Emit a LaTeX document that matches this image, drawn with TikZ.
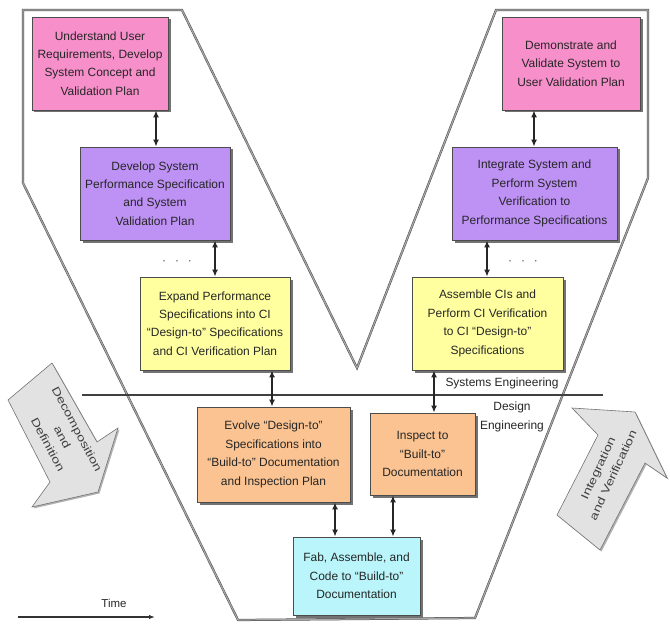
\documentclass[tikz,border=0pt]{standalone}
\usepackage{fontspec}
\setmainfont{Liberation Sans}
\usetikzlibrary{arrows.meta,shadows,calc}
\definecolor{pinkbox}{HTML}{F78FCB}
\definecolor{purplebox}{HTML}{BE91F5}
\definecolor{yellowbox}{HTML}{FFFFA0}
\definecolor{orangebox}{HTML}{FAC391}
\definecolor{cyanbox}{HTML}{B9F5FA}
\definecolor{bigarrow}{HTML}{E2E2E2}
\begin{document}
\begin{tikzpicture}[x=1bp,y=-1bp,
  box/.style={draw=black!70, line width=0.8bp, align=center,
    font=\fontsize{12}{18.5}\selectfont, text=black!85, inner sep=0pt,
    general shadow={fill=black!55, shadow xshift=2.5bp, shadow yshift=-2.5bp}},
  conn/.style={{Latex[length=7bp,width=6bp]}-{Latex[length=7bp,width=6bp]},
    line width=1.4bp, black!85},
  vline/.style={draw=black!70, line width=0.5bp, double=black!35, double distance=1.2bp, line join=miter},
  fatarrow/.style={fill=bigarrow, draw=black!55, line width=0.6bp,
    general shadow={fill=black!30, shadow xshift=1.5bp, shadow yshift=-1.5bp}},
  lbl/.style={font=\fontsize{12}{19}\selectfont, text=black!85, align=center},
  arrlbl/.style={font=\fontsize{11}{16.5}\selectfont, text=black!75}
]
\useasboundingbox (0,0) rectangle (670,634);
\fill[white] (0,0) rectangle (670,634);

% V outline
\draw[vline] (23,10) -- (182,10) -- (357,368) -- (496,10) -- (648,10) -- (648,178)
  -- (475,618) -- (238,620) -- (23,183) -- cycle;

% separator line
\coordinate (hl) at (82,395);
\coordinate (hr) at (603,395);
\draw[line width=2bp, black!75] (hl) -- (hr);

% big arrows
\draw[fatarrow] (8,400) -- (52,363) -- (97,442) -- (118,428) -- (98,492) -- (32,507) -- (50,482) -- cycle;
\draw[fatarrow] (557,515) -- (598,435) -- (572,408) -- (635,412) -- (667,478) -- (645,463) -- (600,550) -- cycle;
\node[arrlbl, rotate=-62] (dd) at (62,437)
  {\scalebox{1.3}[1]{\begin{tabular}{@{}c@{}}Decomposition\\and\\Definition\end{tabular}}};
\node[arrlbl, rotate=65] (iv) at (606,472)
  {\scalebox{1.3}[1]{\begin{tabular}{@{}c@{}}Integration\\and Verification\end{tabular}}};

% boxes
\node[box, fill=pinkbox, minimum width=136bp, minimum height=93bp] (b1) at (100,63.5)
  {Understand User\\Requirements, Develop\\System Concept and\\Validation Plan};
\node[box, fill=purplebox, minimum width=150bp, minimum height=93bp] (b2) at (155,193.5)
  {Develop System\\Performance Specification\\and System\\Validation Plan};
\node[box, fill=yellowbox, minimum width=150bp, minimum height=93bp] (b3) at (215,323.5)
  {Expand Performance\\Specifications into CI\\“Design-to” Specifications\\and CI Verification Plan};
\node[box, fill=pinkbox, minimum width=138bp, minimum height=93bp] (b4) at (571,63.5)
  {Demonstrate and\\Validate System to\\User Validation Plan};
\node[box, fill=purplebox, minimum width=165bp, minimum height=93bp] (b5) at (534.5,193.5)
  {Integrate System and\\Perform System\\Verification to\\Performance Specifications};
\node[box, fill=yellowbox, minimum width=151bp, minimum height=93bp] (b6) at (487.5,323.5)
  {Assemble CIs and\\Perform CI Verification\\to CI “Design-to”\\Specifications};
\node[box, fill=orangebox, minimum width=153bp, minimum height=95bp] (b7) at (273.5,454.5)
  {Evolve “Design-to”\\Specifications into\\“Build-to” Documentation\\and Inspection Plan};
\node[box, fill=orangebox, minimum width=105bp, minimum height=82bp] (b8) at (422.5,454)
  {Inspect to\\“Built-to”\\Documentation};
\node[box, fill=cyanbox, minimum width=127bp, minimum height=78bp] (b9) at (356.5,576)
  {Fab, Assemble, and\\Code to “Build-to”\\Documentation};

% connector x positions
\coordinate (a1) at (156,0);
\coordinate (a2) at (215,0);
\coordinate (a3) at (272,0);
\coordinate (a4) at (335,0);
\coordinate (a5) at (393,0);
\coordinate (a6) at (434,0);
\coordinate (a7) at (487,0);
\coordinate (a8) at (534,0);

\draw[conn] (b1.south -| a1) -- (b2.north -| a1);
\draw[conn] (b2.south -| a2) -- (b3.north -| a2);
\draw[conn] (b3.south -| a3) -- (b7.north -| a3);
\draw[conn] (b7.south -| a4) -- (b9.north -| a4);
\draw[conn] (b8.south -| a5) -- (b9.north -| a5);
\draw[conn] (b6.south -| a6) -- (b8.north -| a6);
\draw[conn] (b5.south -| a7) -- (b6.north -| a7);
\draw[conn] (b4.south -| a8) -- (b5.north -| a8);

% dots
\node[text=black!70, font=\fontsize{12}{14}\selectfont] (dotsL) at (177,263) {·\hspace{9bp}·\hspace{9bp}·};
\node[text=black!70, font=\fontsize{12}{14}\selectfont] (dotsR) at (523,263) {·\hspace{9bp}·\hspace{9bp}·};

% labels
\node[lbl] (se) at (502,383) {Systems Engineering};
\node[lbl] (de) at (512,417) {Design\\Engineering};

% time
\node[lbl, font=\fontsize{11.5}{14}\selectfont] (time) at (114,603) {Time};
\coordinate (t0) at (18,617);
\coordinate (t1) at (155,617);
\draw[-{Latex[length=6bp,width=4.5bp]}, line width=1.2bp, black!80] (t0) -- (t1);
\end{tikzpicture}
\end{document}
